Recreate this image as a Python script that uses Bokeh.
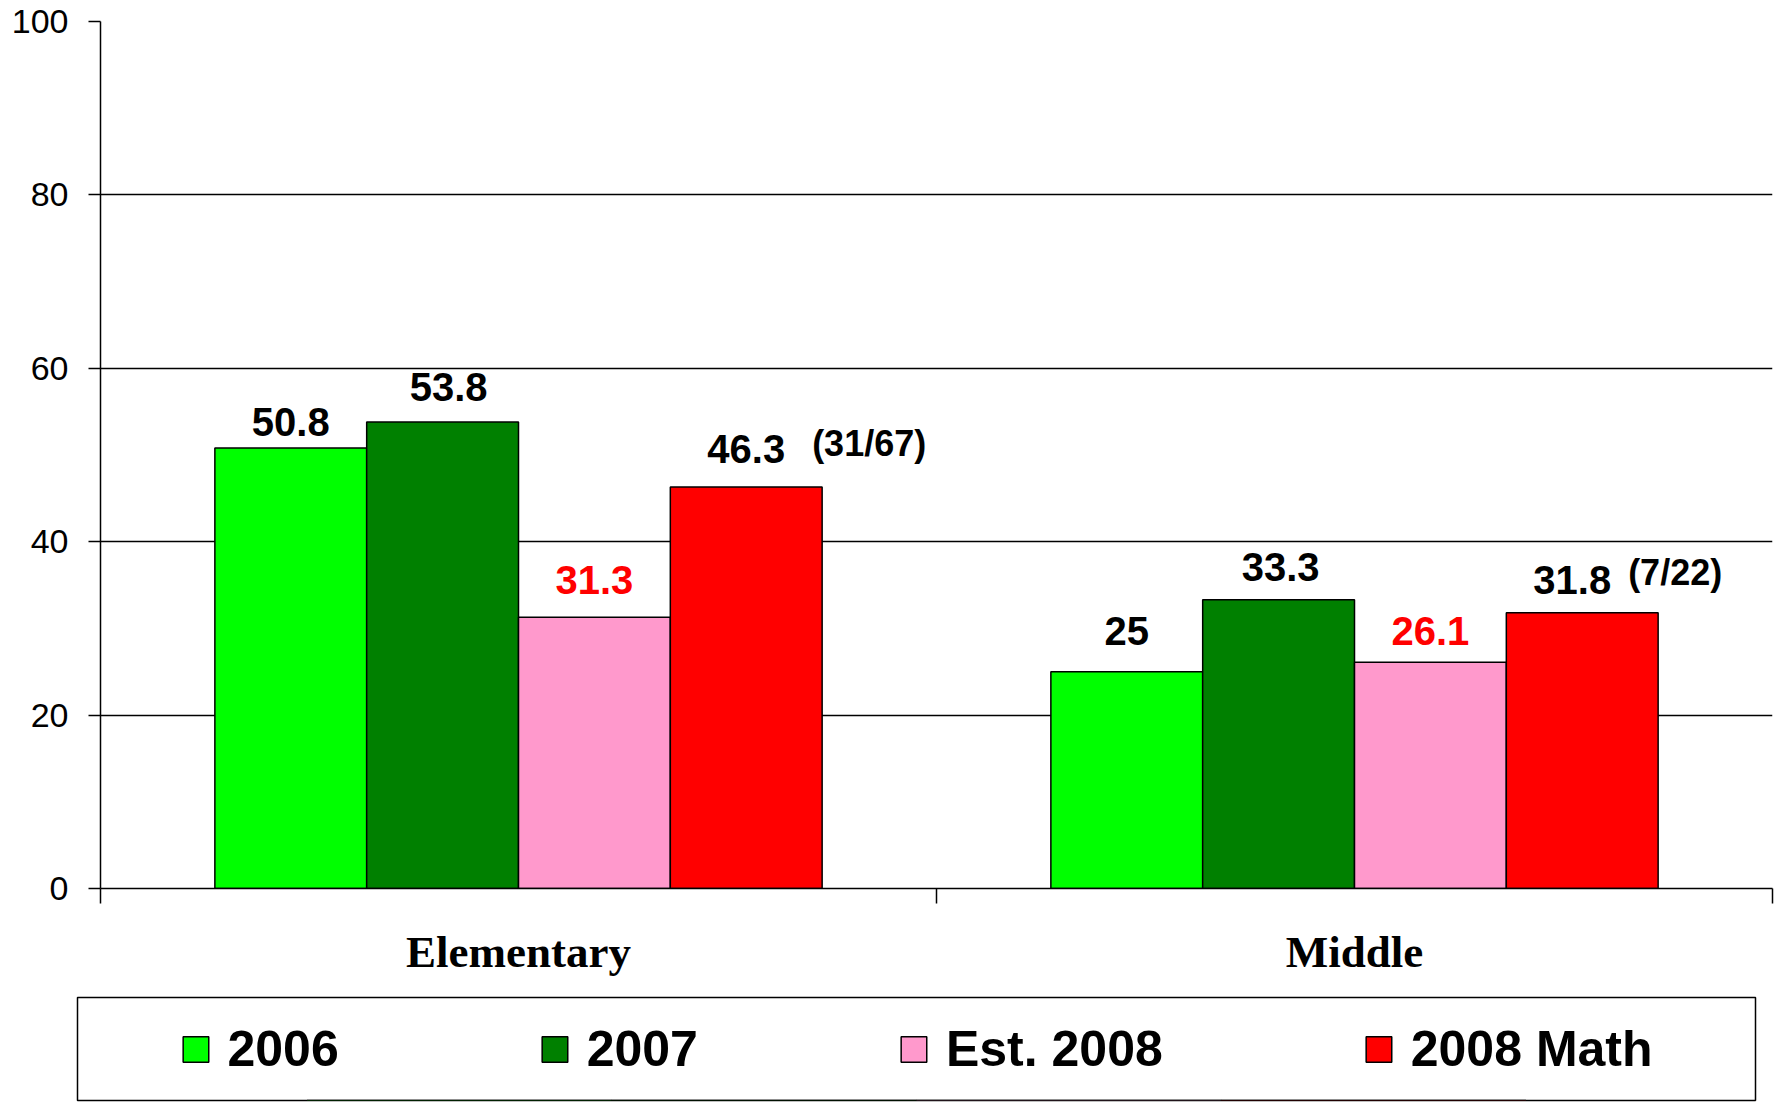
from bokeh.plotting import figure
from bokeh.models import (Range1d, ColumnDataSource, FixedTicker, Legend, LegendItem)
from bokeh.core.properties import value
from bokeh.layouts import column
from bokeh.embed import file_html
from bokeh.resources import INLINE

# ---- data ----
categories = ["Elementary", "Middle"]
series = ["2006", "2007", "Est. 2008", "2008 Math"]
v2006 = [50.8, 25]
v2007 = [53.8, 33.3]
vest2008 = [31.3, 26.1]
v2008math = [46.3, 31.8]
math_counts = ["(31/67)", "(7/22)"]
y_ticks = [0, 20, 40, 60, 80, 100]

# ---- styles ----
colors = ["#00FF00", "#008000", "#FF99CC", "#FF0000"]
label_colors = ["black", "black", "#FF0000", "black"]
offsets = [-0.2724, -0.0908, 0.0908, 0.2724]
bar_w = 0.1816
BASE_FIX = 16.5  # compensation for text baseline placement
# label gap above bar top (px), per series, per category
label_gaps = [[10, 24], [19, 16], [21, 15], [22, 16]]
label_dx = [[0, 0], [6, 2], [0, 0], [0, -10]]

values = [v2006, v2007, vest2008, v2008math]
centers = [i + 0.5 for i in range(len(categories))]   # category slot centers

p = figure(x_range=Range1d(0, len(categories)),
           y_range=Range1d(0, 100), width=1775, height=990,
           output_backend="svg", toolbar_location=None,
           min_border_left=100, min_border_right=3, min_border_top=21, min_border_bottom=102)
p.outline_line_color = None
p.background_fill_color = "white"
p.border_fill_color = "white"

for i, s in enumerate(series):
    xs = [c + offsets[i] for c in centers]
    src = ColumnDataSource(dict(x=xs, val=values[i],
                                txt=[f"{v:g}" for v in values[i]],
                                gap=[-(g + BASE_FIX) for g in label_gaps[i]],
                                dx=label_dx[i]))
    p.vbar(x="x", top="val", width=bar_w,
           fill_color=colors[i], line_color="black", line_width=1.5, source=src)
    p.text(x="x", y="val", text="txt", source=src,
           y_offset="gap", x_offset="dx", text_align="center", text_baseline="alphabetic",
           text_font=value("Liberation Sans"), text_font_style="bold",
           text_font_size="40px", text_color=label_colors[i])

# fraction annotations next to the 2008 Math labels
fsrc = ColumnDataSource(dict(x=[c + offsets[3] + bar_w / 2 for c in centers],
                             val=v2008math, txt=math_counts,
                             dx=[-10, -30], gap=[-(27 + BASE_FIX), -(24 + BASE_FIX)]))
p.text(x="x", y="val", text="txt",
       source=fsrc, x_offset="dx", y_offset="gap", text_align="left",
       text_baseline="alphabetic", text_font=value("Liberation Sans"),
       text_font_style="bold", text_font_size="36px", text_color="black")

# y axis
p.yaxis.ticker = FixedTicker(ticks=y_ticks)
p.yaxis.major_tick_out = 12
p.yaxis.major_tick_in = 0
p.yaxis.minor_tick_line_color = None
p.yaxis.axis_line_color = "black"
p.yaxis.axis_line_width = 1.5
p.yaxis.major_tick_line_color = "black"
p.yaxis.major_tick_line_width = 1.5
p.yaxis.major_label_standoff = 20
p.yaxis.major_label_text_font = "Liberation Sans"
p.yaxis.major_label_text_font_size = "34px"
p.yaxis.major_label_text_color = "black"

p.ygrid.ticker = FixedTicker(ticks=y_ticks)
p.ygrid.grid_line_color = "black"
p.ygrid.grid_line_width = 1.5
p.xgrid.visible = False

# x axis: labels at category centers, minor ticks at category boundaries
xa = p.xaxis[0]
xa.ticker = FixedTicker(ticks=centers, minor_ticks=list(range(len(categories) + 1)))
xa.major_label_overrides = {c: name for c, name in zip(centers, categories)}
xa.axis_line_color = "black"
xa.axis_line_width = 1.5
xa.major_tick_line_color = None
xa.major_tick_out = 0
xa.major_tick_in = 0
xa.minor_tick_line_color = "black"
xa.minor_tick_line_width = 1.5
xa.minor_tick_out = 15
xa.minor_tick_in = 0
xa.major_label_standoff = 23
xa.major_label_text_font = "Liberation Serif"
xa.major_label_text_font_style = "bold"
xa.major_label_text_font_size = "45px"
xa.major_label_text_color = "black"

# legend figure: its frame is the legend box
pl = figure(x_range=Range1d(0, 1), y_range=Range1d(1000, 1001), width=1775, height=112,
            output_backend="svg", toolbar_location=None,
            x_axis_location=None, y_axis_location=None,
            min_border_left=77, min_border_right=20, min_border_top=7, min_border_bottom=2)
pl.grid.visible = False
pl.outline_line_color = "black"
pl.outline_line_width = 1.5
pl.border_fill_color = "white"

for fig in (p, pl):
    if "frame_align" in fig.properties():
        fig.frame_align = False

items = []
for i, s in enumerate(series):
    # same series data; lies outside this figure's y range, so only the legend swatch shows
    r = pl.vbar(x=[c + offsets[i] for c in centers], top=values[i], width=bar_w,
                fill_color=colors[i], line_color="black", line_width=1.5)
    items.append(LegendItem(label=s, renderers=[r]))

legend = Legend(items=items, orientation="horizontal", location="center",
                glyph_width=32, glyph_height=32, label_standoff=16, spacing=200,
                label_text_font="Liberation Sans", label_text_font_style="bold",
                label_text_font_size="50px", label_text_color="black",
                border_line_alpha=0, background_fill_alpha=0, padding=0, margin=0)
pl.add_layout(legend, "center")

layout = column(p, pl, spacing=0)
open("out.html", "w").write(file_html(layout, INLINE))
